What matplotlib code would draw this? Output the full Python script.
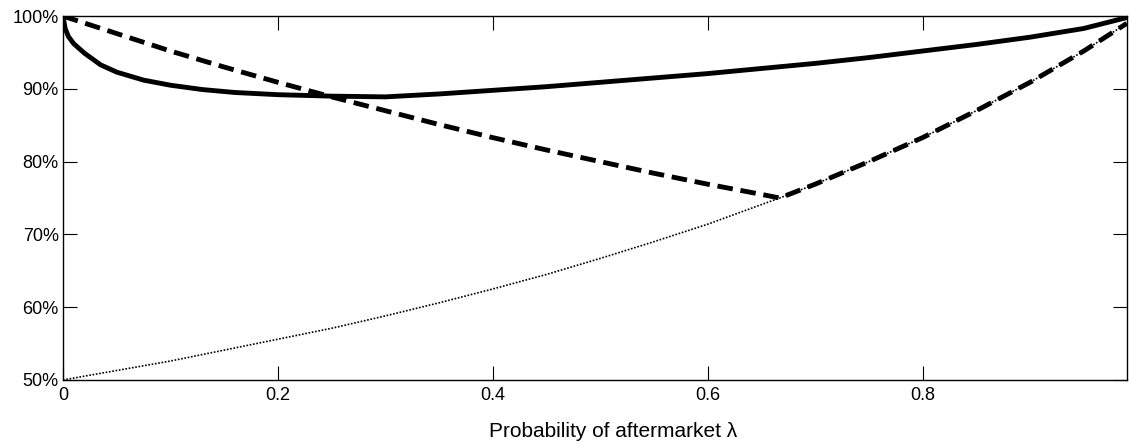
import matplotlib
matplotlib.use("Agg")
import matplotlib.pyplot as plt
from matplotlib.ticker import FuncFormatter

plt.rcParams['font.family'] = ['Liberation Sans', 'DejaVu Sans']

# solid curve (values in %)
lam_solid = [0, 0.002, 0.005, 0.01, 0.02, 0.035, 0.05, 0.075, 0.1, 0.13, 0.16,
             0.2, 0.25, 0.3, 0.35, 0.4, 0.45, 0.5, 0.55, 0.6, 0.65, 0.7, 0.75,
             0.8, 0.85, 0.9, 0.95, 0.99]
solid = [100, 98.3, 97.2, 96.2, 94.9, 93.3, 92.3, 91.2, 90.5, 89.9, 89.5,
         89.2, 89.0, 88.9, 89.3, 89.8, 90.3, 90.9, 91.5, 92.1, 92.8, 93.5, 94.3,
         95.2, 96.1, 97.1, 98.3, 99.8]

# dotted curve
lam_dot = [0, 0.05, 0.1, 0.15, 0.2, 0.25, 0.3, 0.35, 0.4, 0.45, 0.5, 0.55,
           0.6, 0.65, 0.667, 0.7, 0.75, 0.8, 0.85, 0.9, 0.95, 0.99]
dotted = [50.0, 51.3, 52.6, 54.1, 55.6, 57.1, 58.8, 60.6, 62.5, 64.5, 66.7, 69.0,
          71.4, 74.1, 75.0, 76.9, 80.0, 83.3, 87.0, 90.9, 95.2, 99.0]

# dashed curve: falls to the kink, then rides on the dotted curve
lam_dash = [0, 0.05, 0.1, 0.15, 0.2, 0.25, 0.3, 0.35, 0.4, 0.45, 0.5, 0.55,
            0.6, 0.65, 0.667, 0.7, 0.75, 0.8, 0.85, 0.9, 0.95, 0.99]
dashed = [100, 97.6, 95.2, 93.0, 90.9, 88.9, 87.0, 85.1, 83.3, 81.6, 80.0, 78.4,
          76.9, 75.5, 75.0, 76.9, 80.0, 83.3, 87.0, 90.9, 95.2, 99.0]

xticks = [0, 0.2, 0.4, 0.6, 0.8]
yticks = [50, 60, 70, 80, 90, 100]

fig = plt.figure(figsize=(11.29, 4.47), dpi=100)
ax = fig.add_axes([0.0558, 0.150, 0.9422, 0.814])

ax.plot(lam_dot, dotted, color='black', linestyle=(0, (1, 1)), linewidth=1.2)
ax.plot(lam_dash, dashed, color='black', linestyle=(0, (3.2, 1.6)), linewidth=3.5)
ax.plot(lam_solid, solid, color='black', linestyle='-', linewidth=3.5)

ax.set_xlim(0, 0.99)
ax.set_ylim(50, 100)
ax.set_xticks(xticks)
ax.set_yticks(yticks)
ax.xaxis.set_major_formatter(FuncFormatter(lambda v, p: '0' if v == 0 else '%g' % v))
ax.yaxis.set_major_formatter(FuncFormatter(lambda v, p: '%d%%' % v))
ax.tick_params(direction='in', length=10, width=0.8, top=True, right=True,
               labelsize=13, pad=3)
ax.tick_params(axis='x', pad=5)
for s in ax.spines.values():
    s.set_linewidth(1.0)

ax.set_xlabel('Probability of aftermarket λ', fontsize=15, labelpad=13, x=0.517)

fig.savefig('out.png', dpi=100)
